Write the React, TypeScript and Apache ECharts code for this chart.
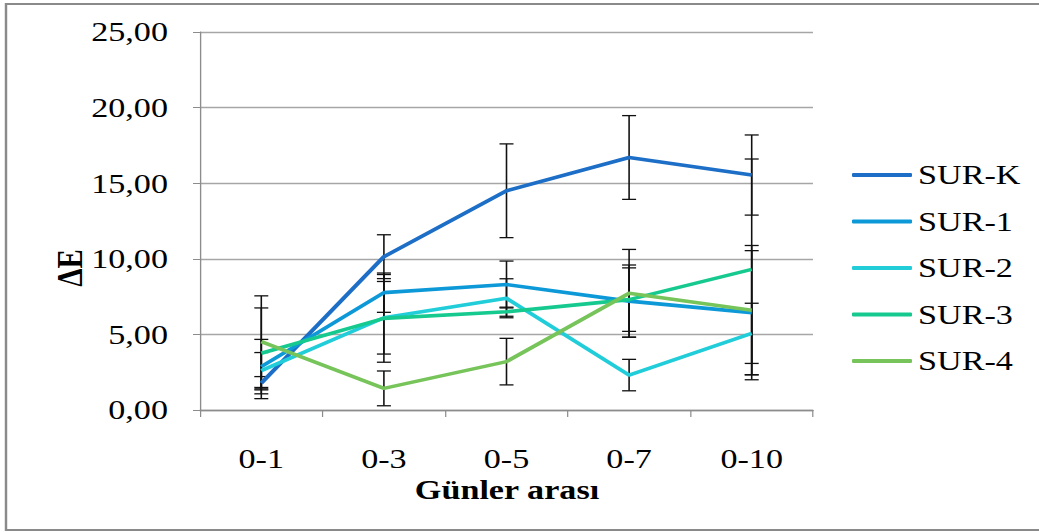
import React, { useEffect, useRef } from "react";
import * as echarts from "echarts";

// Day intervals on the x axis
const categories = ["0-1", "0-3", "0-5", "0-7", "0-10"];
const seriesNames = ["SUR-K", "SUR-1", "SUR-2", "SUR-3", "SUR-4"];

// Mean ΔE per interval
const surK = [1.77, 10.14, 14.5, 16.7, 15.54];
const sur1 = [2.87, 7.76, 8.3, 7.2, 6.44];
const sur2 = [2.6, 6.1, 7.39, 2.31, 5.07];
const sur3 = [3.75, 6.06, 6.5, 7.3, 9.3];
const sur4 = [4.52, 1.43, 3.2, 7.72, 6.6];

// Standard deviations (error bars)
const errK = [0.44, 1.45, 3.1, 2.77, 2.65];
const err1 = [1.8, 1.3, 1.55, 2.39, 4.1];
const err2 = [1.2, 2.4, 1.29, 1.04, 1.99];
const err3 = [3.0, 2.9, 0.3, 2.1, 7.3];
const err4 = [3.03, 1.15, 1.54, 2.9, 4.28];

const yTicks = [0, 5, 10, 15, 20, 25];

const colors = ["#1c6ec6", "#0d99d8", "#20cdd9", "#16c98f", "#76c45a"];

const means = [surK, sur1, sur2, sur3, sur4];
const errs = [errK, err1, err2, err3, err4];

const FONT = "'Liberation Serif', 'Times New Roman', serif";

// The chart is laid out on a narrower canvas and stretched horizontally,
// giving the wide serif lettering of the original spreadsheet export.
const OUT_W = 1039;
const IN_W = 852;
const SX = OUT_W / IN_W;
const H = 532;
const sx = (v: number) => v / SX;

export default function App() {
  const ref = useRef<HTMLDivElement>(null);

  useEffect(() => {
    document.body.style.margin = "0";
    if (!ref.current) return;
    const chart = echarts.init(ref.current, undefined, { renderer: "svg" });

    const lineSeries = seriesNames.map((name, i) => ({
      name,
      type: "line",
      data: means[i],
      symbol: "none",
      lineStyle: { color: colors[i], width: 3.6 },
      itemStyle: { color: colors[i] },
      z: 3,
    }));

    const errorSeries = seriesNames.map((name, i) => ({
      name: name + " err",
      type: "custom",
      z: 2,
      encode: { x: 0, y: 1 },
      data: means[i].map((m, k) => [k, m, errs[i][k]]),
      renderItem: (_params: any, api: any) => {
        const x = api.value(0);
        const m = api.value(1);
        const e = api.value(2);
        const top = api.coord([x, m + e]);
        const bot = api.coord([x, m - e]);
        const hw = sx(7);
        const st = { stroke: "#111", lineWidth: 1.3 };
        return {
          type: "group",
          children: [
            { type: "line", shape: { x1: top[0], y1: top[1], x2: bot[0], y2: bot[1] }, style: st },
            { type: "line", shape: { x1: top[0] - hw, y1: top[1], x2: top[0] + hw, y2: top[1] }, style: st },
            { type: "line", shape: { x1: bot[0] - hw, y1: bot[1], x2: bot[0] + hw, y2: bot[1] }, style: st },
          ],
        };
      },
    }));

    chart.setOption({
      animation: false,
      backgroundColor: "#ffffff",
      grid: { left: sx(200), right: IN_W - sx(813), top: 32, bottom: H - 410, containLabel: false },
      legend: {
        data: seriesNames,
        orient: "vertical",
        left: sx(852),
        top: 161,
        padding: 0,
        icon: "roundRect",
        itemWidth: sx(60),
        itemHeight: 4,
        itemGap: 18.5,
        textStyle: { fontFamily: FONT, fontSize: 28, color: "#000", lineHeight: 28 },
      },
      xAxis: {
        type: "category",
        data: categories,
        boundaryGap: true,
        axisLine: { lineStyle: { color: "#8c8c8c", width: 1.3 } },
        axisTick: { show: true, length: 7, alignWithLabel: false, lineStyle: { color: "#8c8c8c" } },
        axisLabel: { fontFamily: FONT, fontSize: 28, color: "#000", margin: 35 },
      },
      yAxis: {
        type: "value",
        min: 0,
        max: 25,
        interval: 5,
        axisLine: { show: true, lineStyle: { color: "#8c8c8c", width: 1.1 } },
        axisTick: { show: true, length: sx(7), lineStyle: { color: "#8c8c8c" } },
        splitLine: { show: true, lineStyle: { color: "#a6a6a6", width: 1.3 } },
        axisLabel: {
          fontFamily: FONT,
          fontSize: 28,
          color: "#000",
          margin: sx(32),
          formatter: (v: number) => (yTicks.includes(v) ? v.toFixed(2).replace(".", ",") : ""),
        },
      },
      graphic: [
        {
          type: "rect",
          shape: { x: sx(6), y: 4, width: 1000, height: 526 },
          style: { fill: "none", stroke: "#8a8a8a", lineWidth: 2 },
          z: -1,
        },
        {
          type: "text",
          x: sx(507),
          y: 490,
          style: {
            text: "Günler arası",
            font: `bold 28px ${FONT}`,
            fill: "#000",
            align: "center",
            verticalAlign: "middle",
          },
        },
        {
          type: "text",
          x: sx(70),
          y: 268,
          rotation: Math.PI / 2,
          style: {
            text: "ΔE",
            font: `bold 29px ${FONT}`,
            fill: "#000",
            align: "center",
            verticalAlign: "middle",
          },
        },
      ],
      series: [...errorSeries, ...lineSeries],
    });

    return () => chart.dispose();
  }, []);

  return (
    <div style={{ width: OUT_W, height: H, overflow: "hidden" }}>
      <div style={{ transform: `scaleX(${SX})`, transformOrigin: "0 0", width: IN_W, height: H }}>
        <div ref={ref} style={{ width: IN_W, height: H }} />
      </div>
    </div>
  );
}
